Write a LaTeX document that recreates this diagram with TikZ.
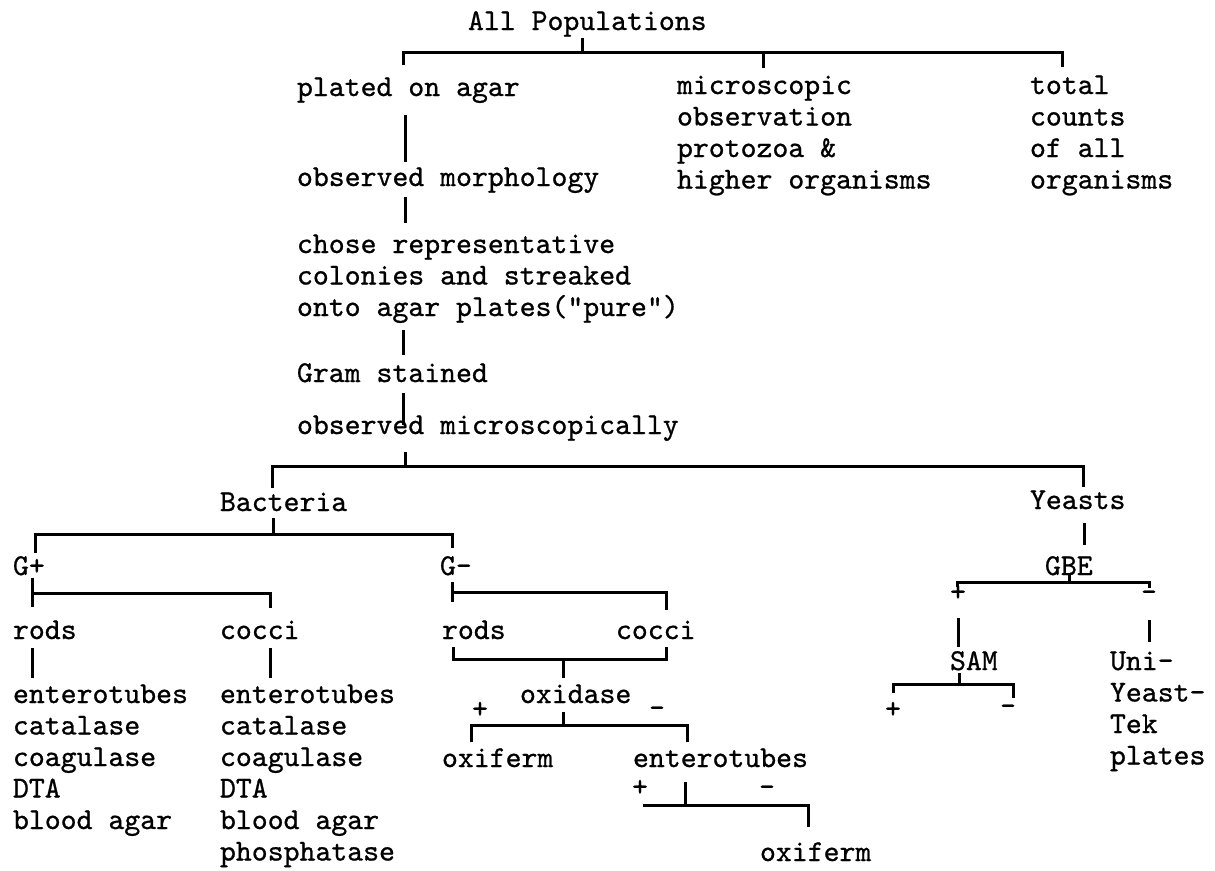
\documentclass[tikz,border=0pt]{standalone}
\usepackage{fontspec}
\newfontfamily\twfam{lmmono10-regular.otf}[FakeBold=0.8]
\newcommand\tw{\twfam\fontsize{30.3}{31.5}\selectfont}
\newcommand\ml[1]{\begin{tabular}[t]{@{}l@{}}#1\end{tabular}}
\begin{document}
\begin{tikzpicture}[x=1pt,y=-1pt,
  txt/.style={inner sep=0pt,outer sep=0pt,anchor=base west,font=\tw},
  sgn/.style={inner sep=0pt,outer sep=0pt,anchor=base,font=\tw},
  link/.style={line width=3pt,black}]
\fill[white] (0,0) rectangle (1215,870);
\useasboundingbox (0,0) rectangle (1215,870);

% ---- text nodes ----
\node[txt] (allpop) at (468,30) {All Populations};
\node[txt] (plated) at (297,96) {plated on agar};
\node[txt] (micro) at (677,94) {\ml{microscopic\\observation\\protozoa \&\\higher organisms}};
\node[txt] (total) at (1030,94) {\ml{total\\counts\\of all\\organisms}};
\node[txt] (morph) at (297,186) {observed morphology};
\node[txt] (chose) at (297,253) {\ml{chose representative\\colonies and streaked\\onto agar plates("pure")}};
\node[txt] (gram) at (297,382) {Gram stained};
\node[txt] (obsmic) at (297,434) {observed microscopically};
\node[txt] (bact) at (220,511) {Bacteria};
\node[txt] (yeast) at (1030,509) {Yeasts};
\node[txt] (gp) at (13,575) {G+};
\node[txt] (gm) at (440,575) {G-};
\node[txt] (gbe) at (1045,575) {GBE};
\node[txt] (rodsA) at (13,639) {rods};
\node[txt] (cocciA) at (220,639) {cocci};
\node[txt] (rodsB) at (442,639) {rods};
\node[txt] (cocciB) at (616,639) {cocci};
\node[txt] (testsA) at (13,703) {\ml{enterotubes\\catalase\\coagulase\\DTA\\blood agar}};
\node[txt] (testsB) at (220,703) {\ml{enterotubes\\catalase\\coagulase\\DTA\\blood agar\\phosphatase}};
\node[txt] (oxid) at (520,703) {oxidase};
\node[txt] (sam) at (950,670) {SAM};
\node[txt] (uni) at (1110,670) {\ml{Uni-\\Yeast-\\Tek\\plates}};
\node[txt] (oxfA) at (442,767) {oxiferm};
\node[txt] (ent) at (633,767) {enterotubes};
\node[txt] (oxfB) at (760,861) {oxiferm};

% ---- sign nodes ----
\node[sgn] (oxP) at (480,718) {+};
\node[sgn] (oxM) at (657,717) {-};
\node[sgn] (gbeP) at (958,601) {+};
\node[sgn] (gbeM) at (1149,601) {-};
\node[sgn] (samP) at (893,718) {+};
\node[sgn] (samM) at (1008,715) {-};
\node[sgn] (entP) at (640,796) {+};
\node[sgn] (entM) at (767,796) {-};

% ---- junction coordinates ----
\coordinate (a0) at (582,38);  \coordinate (a1) at (582,52);
\coordinate (aL) at (403,52);  \coordinate (aM) at (763,52);  \coordinate (aR) at (1062,52);
\coordinate (aLd) at (403,65); \coordinate (aMd) at (763,68); \coordinate (aRd) at (1062,67);
\coordinate (p0) at (405,115); \coordinate (p1) at (405,162);
\coordinate (m0) at (405,197); \coordinate (m1) at (405,223);
\coordinate (c0) at (403,330); \coordinate (c1) at (403,355);
\coordinate (g0) at (403,393); \coordinate (g1) at (403,425);
\coordinate (o0) at (405,452); \coordinate (o1) at (405,466);
\coordinate (oL) at (272,466); \coordinate (oR) at (1083,466);
\coordinate (oLd) at (272,488); \coordinate (oRd) at (1083,487);
\coordinate (y0) at (1084,523); \coordinate (y1) at (1084,545);
\coordinate (b0) at (273,518); \coordinate (b1) at (273,534);
\coordinate (bL) at (35,534);  \coordinate (bR) at (452,534);
\coordinate (bLd) at (35,553); \coordinate (bRd) at (452,548);
\coordinate (gp0) at (32,578); \coordinate (gp1) at (32,607);
\coordinate (gpL) at (32,593); \coordinate (gpR) at (270,593); \coordinate (gpRd) at (270,608);
\coordinate (gm0) at (452,582); \coordinate (gm1) at (452,602);
\coordinate (gmL) at (452,592); \coordinate (gmR) at (666,592); \coordinate (gmRd) at (666,610);
\coordinate (rA0) at (32,648);  \coordinate (rA1) at (32,678);
\coordinate (cA0) at (270,648); \coordinate (cA1) at (270,678);
\coordinate (rB0) at (453,647); \coordinate (rB1) at (453,659);
\coordinate (cB0) at (666,647); \coordinate (cB1) at (666,659);
\coordinate (rc0) at (563,659); \coordinate (rc1) at (563,678);
\coordinate (x0) at (563,712); \coordinate (x1) at (563,725);
\coordinate (xL) at (471,725); \coordinate (xR) at (687,725);
\coordinate (xLd) at (471,742); \coordinate (xRd) at (687,742);
\coordinate (e0) at (685,782); \coordinate (e1) at (685,805);
\coordinate (eL) at (643,805); \coordinate (eR) at (808,805); \coordinate (eRd) at (808,827);
\coordinate (gb0) at (1069,573); \coordinate (gb1) at (1069,582);
\coordinate (gbL) at (957,582); \coordinate (gbR) at (1149,582);
\coordinate (gbLd) at (957,587); \coordinate (gbRd) at (1149,588);
\coordinate (sp0) at (958,618); \coordinate (sp1) at (958,647);
\coordinate (um0) at (1149,620); \coordinate (um1) at (1149,642);
\coordinate (s0) at (959,673); \coordinate (s1) at (959,684);
\coordinate (sL) at (893,684); \coordinate (sR) at (1013,684);
\coordinate (sLd) at (893,693); \coordinate (sRd) at (1013,698);

% ---- connectors ----
\draw[link] (a0) -- (a1);
\draw[link] (aLd) -- (aL) -- (aR) -- (aRd);
\draw[link] (aM) -- (aMd);
\draw[link] (p0) -- (p1);
\draw[link] (m0) -- (m1);
\draw[link] (c0) -- (c1);
\draw[link] (g0) -- (g1);
\draw[link] (o0) -- (o1);
\draw[link] (oLd) -- (oL) -- (oR) -- (oRd);
\draw[link] (y0) -- (y1);
\draw[link] (b0) -- (b1);
\draw[link] (bLd) -- (bL) -- (bR) -- (bRd);
\draw[link] (gp0) -- (gp1);
\draw[link] (gpL) -- (gpR) -- (gpRd);
\draw[link] (gm0) -- (gm1);
\draw[link] (gmL) -- (gmR) -- (gmRd);
\draw[link] (rA0) -- (rA1);
\draw[link] (cA0) -- (cA1);
\draw[link] (rB0) -- (rB1) -- (cB1) -- (cB0);
\draw[link] (rc0) -- (rc1);
\draw[link] (x0) -- (x1);
\draw[link] (xLd) -- (xL) -- (xR) -- (xRd);
\draw[link] (e0) -- (e1);
\draw[link] (eL) -- (eR) -- (eRd);
\draw[link] (gb0) -- (gb1);
\draw[link] (gbLd) -- (gbL) -- (gbR) -- (gbRd);
\draw[link] (sp0) -- (sp1);
\draw[link] (um0) -- (um1);
\draw[link] (s0) -- (s1);
\draw[link] (sLd) -- (sL) -- (sR) -- (sRd);
\end{tikzpicture}
\end{document}
